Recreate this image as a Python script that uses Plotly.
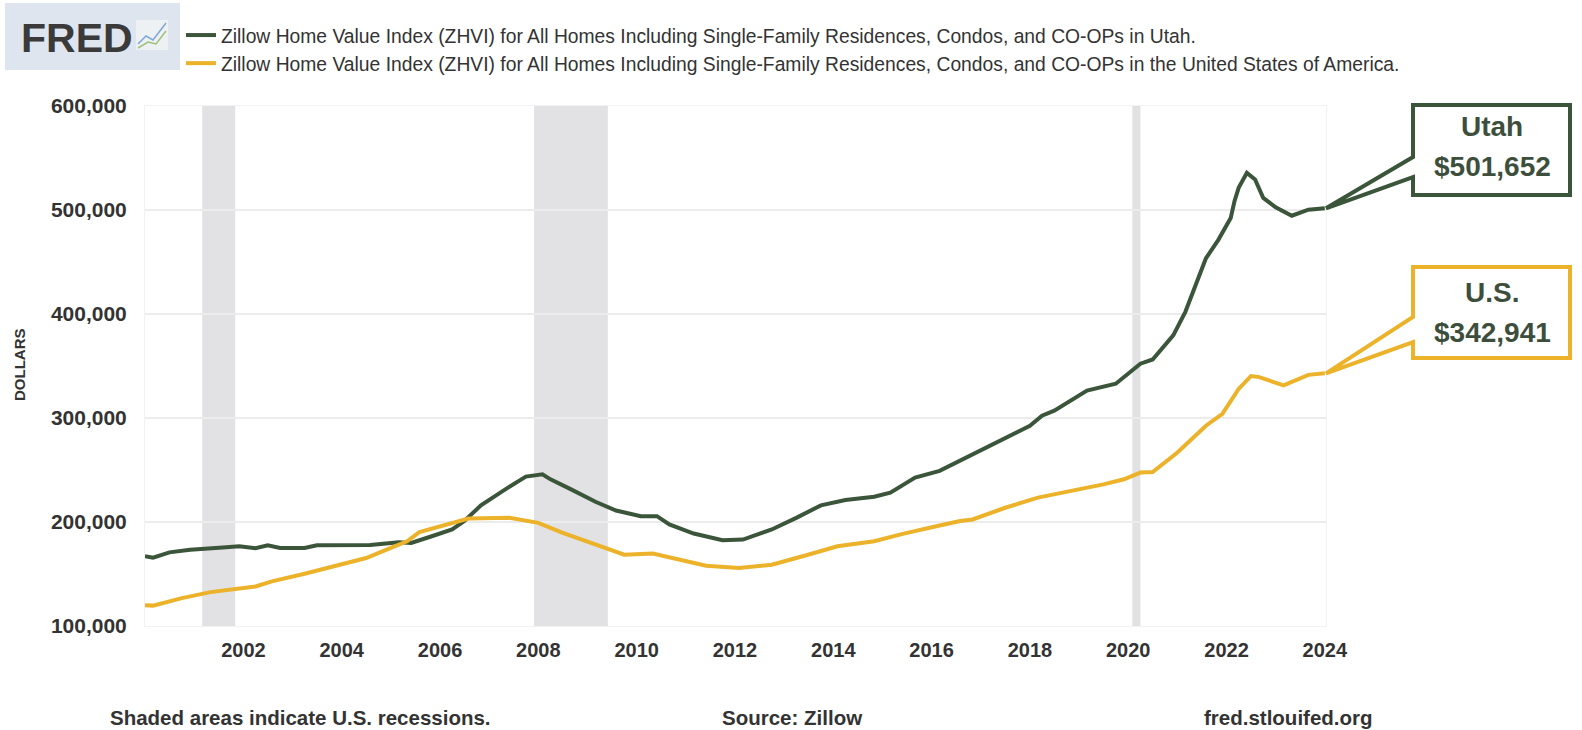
import plotly.graph_objects as go

# Zillow Home Value Index
utah_dates = ["2000-01-01", "2000-03-01", "2000-07-01", "2000-12-01", "2001-08-01", "2001-12-01",
              "2002-04-01", "2002-07-01", "2002-10-01", "2003-04-01", "2003-07-01", "2004-08-01",
              "2005-03-01", "2005-06-01", "2005-11-01", "2006-04-01", "2006-07-01", "2006-11-01",
              "2007-05-01", "2007-10-01", "2008-02-01", "2008-04-01", "2008-09-01", "2009-03-01",
              "2009-08-01", "2010-02-01", "2010-06-01", "2010-09-01", "2011-03-01", "2011-10-01",
              "2012-03-01", "2012-10-01", "2013-04-01", "2013-10-01", "2014-04-01", "2014-11-01",
              "2015-03-01", "2015-09-01", "2016-03-01", "2016-08-01", "2017-02-01", "2018-01-01",
              "2018-04-01", "2018-07-01", "2019-03-01", "2019-10-01", "2020-04-01", "2020-07-01",
              "2020-12-01", "2021-03-01", "2021-08-01", "2021-11-01", "2022-02-01", "2022-03-01",
              "2022-04-01", "2022-06-01", "2022-08-01", "2022-10-01", "2023-01-01", "2023-05-01",
              "2023-09-01", "2024-01-01"]
utah_values = [167000, 165700, 170800, 173400, 175600, 176600,
               174700, 177600, 175000, 175000, 177600, 178000,
               180500, 179900, 186300, 192800, 200900, 216000,
               231400, 243700, 245900, 241000, 231400, 219500,
               211000, 205600, 205600, 197600, 188900, 182400,
               183100, 192800, 204000, 216000, 221100, 224300,
               228200, 242700, 249200, 259000, 271700, 292600,
               302200, 307100, 326400, 332900, 352200, 356300,
               379500, 402100, 453600, 471300, 492300, 508400,
               521300, 535700, 529300, 511600, 502600, 494500,
               500300, 501652]

us_dates = ["2000-01-01", "2000-03-01", "2000-10-01", "2001-05-01", "2002-04-01", "2002-08-01",
            "2003-04-01", "2003-12-01", "2004-07-01", "2005-01-01", "2005-05-01", "2005-08-01",
            "2006-02-01", "2006-08-01", "2007-06-01", "2008-01-01", "2008-07-01", "2009-04-01",
            "2009-10-01", "2010-05-01", "2010-11-01", "2011-06-01", "2012-02-01", "2012-10-01",
            "2013-06-01", "2014-02-01", "2014-11-01", "2015-06-01", "2016-03-01", "2016-08-01",
            "2016-11-01", "2017-07-01", "2018-03-01", "2018-11-01", "2019-07-01", "2019-12-01",
            "2020-04-01", "2020-07-01", "2021-01-01", "2021-08-01", "2021-12-01", "2022-04-01",
            "2022-07-01", "2022-09-01", "2023-03-01", "2023-09-01", "2024-01-01"]
us_values = [120000, 119600, 126800, 132600, 138000, 142900,
             150300, 158300, 165400, 175100, 181500, 190200,
             196600, 203400, 204000, 199200, 189600, 176700,
             168600, 169600, 163800, 158000, 155700, 158900,
             167600, 176700, 181500, 188600, 196600, 200900,
             202400, 213700, 223400, 229800, 236200, 241100,
             247500, 248100, 266800, 292600, 303900, 328000,
             340300, 339300, 331300, 341500, 342941]

recession_starts = ["2001-03-01", "2007-12-01", "2020-02-01"]
recession_ends = ["2001-11-01", "2009-06-01", "2020-04-01"]

x_ticks = ["2002", "2004", "2006", "2008", "2010", "2012",
           "2014", "2016", "2018", "2020", "2022", "2024"]
y_ticks = [100000, 200000, 300000, 400000, 500000, 600000]

utah_label = "Zillow Home Value Index (ZHVI) for All Homes Including Single-Family Residences, Condos, and CO-OPs in Utah."
us_label = "Zillow Home Value Index (ZHVI) for All Homes Including Single-Family Residences, Condos, and CO-OPs in the United States of America."

GREEN = "#3b553a"
YELLOW = "#ebb22a"
TEXT = "#333333"
FONT = "Liberation Sans, Arial, sans-serif"

W, H = 1582, 730
L, R, T, B = 145, 256, 106, 104
pw, ph = W - L - R, H - T - B
y_lo, y_hi = 100000, 600000


def px(X):
    return (X - L) / pw


def py(Y):
    return (H - B - Y) / ph


fig = go.Figure()
fig.add_trace(go.Scatter(x=utah_dates, y=utah_values, mode="lines", name=utah_label,
                         line=dict(color=GREEN, width=4)))
fig.add_trace(go.Scatter(x=us_dates, y=us_values, mode="lines", name=us_label,
                         line=dict(color=YELLOW, width=4)))

for s, e in zip(recession_starts, recession_ends):
    fig.add_shape(type="rect", xref="x", yref="paper", x0=s, x1=e, y0=0, y1=1,
                  fillcolor="#e2e2e4", line_width=0, layer="below")


def callout(box_top, box_bot, tail_a, tail_b, value, color):
    # speech-bubble outline, pointer ends at the last value of the series
    x0, x1 = px(1413), px(1570)
    tip_y = (value - y_lo) / (y_hi - y_lo)
    path = (f"M {x0},{py(box_top)} L {x1},{py(box_top)} L {x1},{py(box_bot)} "
            f"L {x0},{py(box_bot)} L {x0},{py(tail_b)} L 1.0,{tip_y} L {x0},{py(tail_a)} Z")
    fig.add_shape(type="path", xref="paper", yref="paper", path=path,
                  fillcolor="white", line=dict(color=color, width=4), layer="above")


callout(105, 195, 157, 177, utah_values[-1], GREEN)
callout(267, 358, 317, 342, us_values[-1], YELLOW)

big = dict(family=FONT, size=28, color="#3d4f3c", weight="bold")
for txt, Y in [("Utah", 127), (f"${utah_values[-1]:,}", 166),
               ("U.S.", 292), (f"${us_values[-1]:,}", 332)]:
    fig.add_annotation(text=txt, x=px(1492), y=py(Y), xref="paper", yref="paper",
                       showarrow=False, font=big, xanchor="center", yanchor="middle")

# FRED logo block
fig.add_shape(type="rect", xref="paper", yref="paper", x0=px(5), x1=px(180), y0=py(70), y1=py(3),
              fillcolor="#dfe5ee", line_width=0)
fig.add_annotation(text="FRED", x=px(19), y=py(38), xref="paper", yref="paper", showarrow=False,
                   xanchor="left", yanchor="middle",
                   font=dict(family=FONT, size=41, color="#3a3a3a", weight="bold"))
fig.add_shape(type="rect", xref="paper", yref="paper", x0=px(136), x1=px(168), y0=py(50), y1=py(20),
              fillcolor="#eef1f4", line_width=0)
fig.add_shape(type="path", xref="paper", yref="paper",
              path=f"M {px(138)},{py(44)} L {px(146)},{py(36)} L {px(153)},{py(40)} L {px(166)},{py(23)}",
              line=dict(color="#7fa7d6", width=1.5))
fig.add_shape(type="path", xref="paper", yref="paper",
              path=f"M {px(138)},{py(48)} L {px(148)},{py(42)} L {px(156)},{py(44)} L {px(166)},{py(31)}",
              line=dict(color="#9cc27a", width=1.5))

for txt, X in [("Shaded areas indicate U.S. recessions.", 108),
               ("Source: Zillow", 720),
               ("fred.stlouifed.org", 1202)]:
    fig.add_annotation(text=txt, x=px(X), y=py(717), xref="paper", yref="paper", showarrow=False,
                       xanchor="left", yanchor="middle",
                       font=dict(family=FONT, size=20.5, color=TEXT, weight="bold"))
fig.add_annotation(text="DOLLARS", x=px(19), y=py(365), textangle=-90,
                   xref="paper", yref="paper", showarrow=False, xanchor="center", yanchor="middle",
                   font=dict(family=FONT, size=15, color=TEXT, weight="bold"))

fig.update_layout(
    width=W, height=H,
    margin=dict(l=L, r=R, t=T, b=B),
    paper_bgcolor="white", plot_bgcolor="white",
    font=dict(family=FONT, color=TEXT),
    showlegend=True,
    legend=dict(x=px(181), y=py(16), xanchor="left", yanchor="top",
                font=dict(family=FONT, size=19.3, color=TEXT),
                bgcolor="rgba(0,0,0,0)", tracegroupgap=0, itemclick=False),
    xaxis=dict(range=["2000-01-01", "2024-01-10"], tickvals=[f"{t}-01-01" for t in x_ticks],
               ticktext=x_ticks, showgrid=False, zeroline=False,
               showline=True, linecolor="#f2f2f2", mirror=True,
               tickfont=dict(family=FONT, size=20, color=TEXT, weight="bold"), ticklabelstandoff=6),
    yaxis=dict(range=[y_lo, y_hi], tickvals=y_ticks, tickformat=",d",
               gridcolor="#ececec", gridwidth=1.5, zeroline=False,
               showline=True, linecolor="#f2f2f2", mirror=True,
               tickfont=dict(family=FONT, size=21, color=TEXT, weight="bold"), ticklabelstandoff=13),
)

fig.write_html("out.html", config={"displayModeBar": False},
               post_script="document.body.style.margin = '0';")
